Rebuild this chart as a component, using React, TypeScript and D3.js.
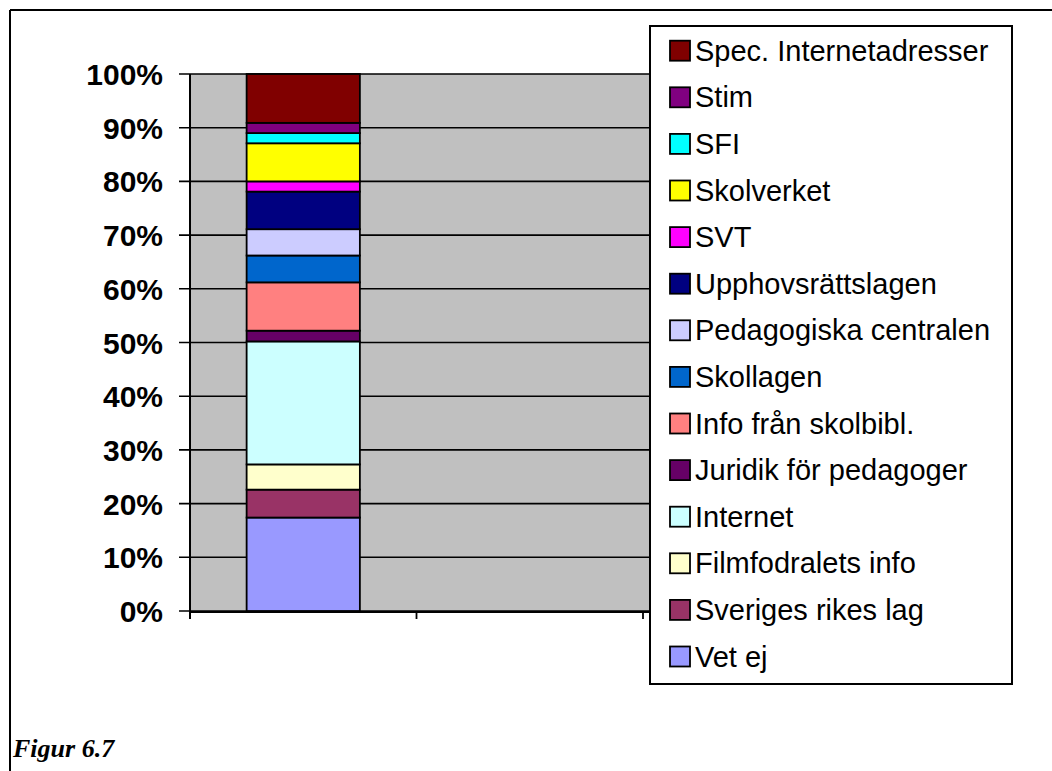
import React from "react";
import * as d3 from "d3";

const seriesNames = [
  "Vet ej",
  "Sveriges rikes lag",
  "Filmfodralets info",
  "Internet",
  "Juridik för pedagoger",
  "Info från skolbibl.",
  "Skollagen",
  "Pedagogiska centralen",
  "Upphovsrättslagen",
  "SVT",
  "Skolverket",
  "SFI",
  "Stim",
  "Spec. Internetadresser",
];
const seriesValues = [17.4, 5.2, 4.7, 22.9, 2.0, 9.0, 5.0, 4.9, 7.0, 1.9, 7.1, 1.9, 1.9, 9.1];
const seriesColors = [
  "#9999FF", "#993366", "#FFFFCC", "#CCFFFF", "#660066", "#FF8080", "#0066CC",
  "#CCCCFF", "#000080", "#FF00FF", "#FFFF00", "#00FFFF", "#800080", "#800000",
];
const categories = ["1", "2", "3"];
const yTicks = [0, 10, 20, 30, 40, 50, 60, 70, 80, 90, 100];
const caption = "Figur 6.7";

export default function App() {
  const W = 1052, H = 771;
  const plotL = 190, plotR = 869.5, plotT = 74, plotB = 611;
  const y = d3.scaleLinear().domain([0, 100]).range([plotB, plotT]);
  const x = d3.scaleBand<string>().domain(categories).range([plotL, plotR]).paddingInner(0.5).paddingOuter(0.25);
  const step = x.step();
  const total = d3.sum(seriesValues);
  const stackData = [Object.fromEntries(seriesNames.map((n, i) => [n, (seriesValues[i] / total) * 100]))];
  const stacked = d3.stack<any>().keys(seriesNames)(stackData as any);

  const legX = 650, legY = 26, legW = 362, legH = 658;
  const rowH = 46.6;
  const legendOrder = seriesNames.map((n, i) => i).reverse();
  const font = "'Liberation Sans', Arial, Helvetica, sans-serif";

  return (
    <svg width={W} height={H} style={{ position: "absolute", left: 0, top: 0, background: "#fff" }}>
      {/* outer frame */}
      <line x1={10} y1={10} x2={10} y2={H} stroke="#000" strokeWidth={2} />
      <line x1={10} y1={10} x2={W} y2={10} stroke="#000" strokeWidth={2} />

      {/* plot area */}
      <rect x={plotL} y={plotT} width={plotR - plotL} height={plotB - plotT} fill="#C0C0C0" />
      {yTicks.map((t) => (
        <line key={"g" + t} x1={plotL - 11} x2={plotR} y1={y(t)} y2={y(t)} stroke="#000" strokeWidth={1.6} />
      ))}
      {/* bars */}
      {stacked.map((s, i) => (
        <rect
          key={s.key}
          x={x(categories[0])}
          width={x.bandwidth()}
          y={y(s[0][1])}
          height={y(s[0][0]) - y(s[0][1])}
          fill={seriesColors[i]}
          stroke="#000"
          strokeWidth={1.8}
        />
      ))}
      {/* axes */}
      <line x1={plotL} x2={plotL} y1={plotT} y2={plotB + 8} stroke="#000" strokeWidth={2} />
      <line x1={plotL} x2={plotR} y1={plotB + 1} y2={plotB + 1} stroke="#000" strokeWidth={2} />
      {d3.range(categories.length + 1).map((i) => (
        <line key={"xt" + i} x1={plotL + i * step} x2={plotL + i * step} y1={plotB} y2={plotB + 8} stroke="#000" strokeWidth={1.8} />
      ))}
      {yTicks.map((t) => (
        <text
          key={"yl" + t}
          x={163}
          y={y(t) + 11}
          textAnchor="end"
          fontFamily={font}
          fontWeight="bold"
          fontSize={30}
        >
          {t + "%"}
        </text>
      ))}

      {/* legend */}
      <rect x={legX} y={legY} width={legW} height={legH} fill="#fff" stroke="#000" strokeWidth={2} />
      {legendOrder.map((idx, r) => {
        const cy = 50.7 + r * rowH;
        return (
          <g key={"lg" + idx}>
            <rect x={670} y={cy - 10} width={20} height={20} fill={seriesColors[idx]} stroke="#000" strokeWidth={1.8} />
            <text x={695} y={cy + 10} fontFamily={font} fontSize={29}>
              {seriesNames[idx]}
            </text>
          </g>
        );
      })}

      <text x={13} y={757} fontFamily="'Liberation Serif', 'Times New Roman', serif" fontWeight="bold" fontStyle="italic" fontSize={26}>
        {caption}
      </text>
    </svg>
  );
}
